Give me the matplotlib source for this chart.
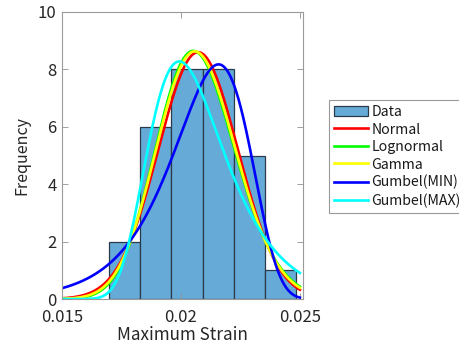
import math
import numpy as np
import matplotlib
matplotlib.use("Agg")
import matplotlib.pyplot as plt

plt.rcParams['font.family'] = ['Noto Sans CJK JP', 'DejaVu Sans']

# Histogram data
bin_edges = [0.01698, 0.01829, 0.01960, 0.02091, 0.02222, 0.02353, 0.02484]
counts = [2, 6, 8, 8, 5, 1]

# Fitted distribution parameters
pdf_scale = 0.036
normal_mu, normal_sigma = 0.02072, 0.00167
logn_mu, logn_sigma = -3.8799, 0.0807
gamma_k, gamma_theta = 154.0, 0.0001345
gmin_mu, gmin_beta = 0.02158, 0.00162
gmax_mu, gmax_beta = 0.01993, 0.00160
curve_range = [0.015, 0.025]

labels = ['Data', 'Normal', 'Lognormal', 'Gamma', 'Gumbel(MIN)', 'Gumbel(MAX)']
colors = ['#66AAD7', '#FF0000', '#00FF00', '#FFFF00', '#0000FF', '#00FFFF']
x_ticks = [0.015, 0.02, 0.025]
x_tick_labels = ['0.015', '0.02', '0.025']
y_ticks = [0, 2, 4, 6, 8, 10]

x = np.linspace(curve_range[0], curve_range[1], 400)

def normal_pdf(x, m, s):
    return np.exp(-0.5 * ((x - m) / s) ** 2) / (s * math.sqrt(2 * math.pi))

def logn_pdf(x, m, s):
    return np.exp(-0.5 * ((np.log(x) - m) / s) ** 2) / (x * s * math.sqrt(2 * math.pi))

def gamma_pdf(x, k, th):
    return np.exp((k - 1) * np.log(x) - x / th - math.lgamma(k) - k * math.log(th))

def gmin_pdf(x, m, b):
    z = (x - m) / b
    return np.exp(z - np.exp(z)) / b

def gmax_pdf(x, m, b):
    z = (x - m) / b
    return np.exp(-z - np.exp(-z)) / b

curves = [
    pdf_scale * normal_pdf(x, normal_mu, normal_sigma),
    pdf_scale * logn_pdf(x, logn_mu, logn_sigma),
    pdf_scale * gamma_pdf(x, gamma_k, gamma_theta),
    pdf_scale * gmin_pdf(x, gmin_mu, gmin_beta),
    pdf_scale * gmax_pdf(x, gmax_mu, gmax_beta),
]

fig = plt.figure(figsize=(4.6, 3.45), dpi=100)
ax = fig.add_axes([62 / 460, 1 - 299 / 345, (303 - 62) / 460, (299 - 12) / 345])

edges = np.array(bin_edges)
bars = ax.bar(edges[:-1], counts, width=np.diff(edges), align='edge',
              color=colors[0], edgecolor='#2a3a48', linewidth=0.9, label=labels[0])
handles = [bars]
for y, c, lab in zip(curves, colors[1:], labels[1:]):
    ln, = ax.plot(x, y, color=c, linewidth=1.9, label=lab)
    handles.append(ln)

ax.set_xlim(0.015, 0.02513)
ax.set_ylim(0, 10)
ax.set_xticks(x_ticks)
ax.set_xticklabels(x_tick_labels)
ax.set_yticks(y_ticks)
ax.tick_params(direction='in', top=True, right=True, length=4, width=0.6,
               colors='#909090', labelcolor='#262626', labelsize=12)
ax.tick_params(axis='x', pad=7)
ax.tick_params(axis='y', pad=4)
for sp in ax.spines.values():
    sp.set_color('#9a9a9a')
    sp.set_linewidth(0.8)
ax.set_xlabel('Maximum Strain', fontsize=12.3, color='#262626', labelpad=0)
ax.set_ylabel('Frequency', fontsize=11.5, color='#262626', labelpad=5)

leg = fig.legend(handles, labels, loc='upper left',
                 bbox_to_anchor=(329 / 460, 1 - 100 / 345),
                 fontsize=10.2, frameon=True, fancybox=False, edgecolor='#808080',
                 handlelength=2.4, handleheight=0.8, handletextpad=0.25,
                 labelspacing=0.25, borderpad=0.35, borderaxespad=0)
leg.get_frame().set_linewidth(0.8)
for t in leg.get_texts():
    t.set_color('#1a1a1a')

fig.savefig('out.png', dpi=100)
